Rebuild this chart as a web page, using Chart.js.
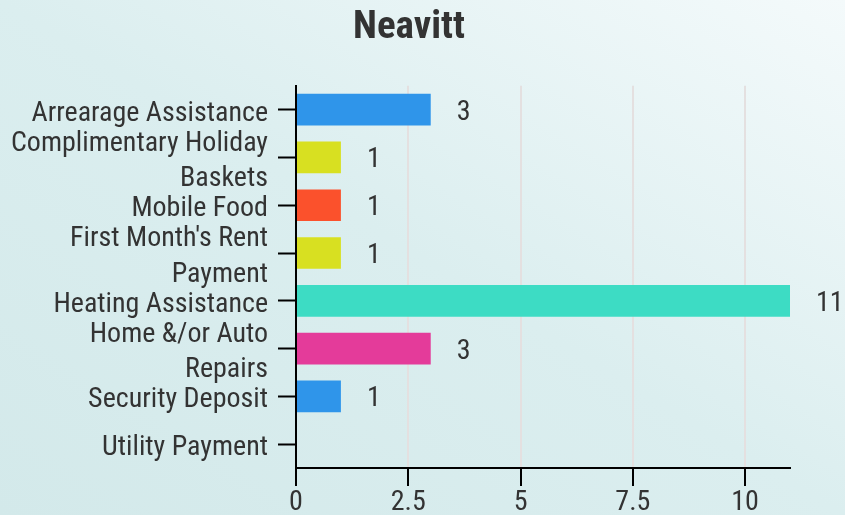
<!DOCTYPE html>
<html>
<head>
<meta charset="utf-8">
<script src="https://cdn.jsdelivr.net/npm/chart.js@4.4.1/dist/chart.umd.min.js"></script>
<style>
    html, body {
        margin: 0;
        padding: 0;
        width: 845px;
        height: 515px;
        overflow: hidden;
        background: linear-gradient(to top right, #d3e9ea 0%, #dbeeef 50%, #f4fafb 100%);
    }
    canvas { display: block; }
</style>
</head>
<body>
<canvas id="neavitt-chart" width="845" height="515"></canvas>
<script>
const categories = [
    'Arrearage Assistance',
    ['Complimentary Holiday', 'Baskets'],
    'Mobile Food',
    ["First Month's Rent", 'Payment'],
    'Heating Assistance',
    ['Home &/or Auto', 'Repairs'],
    'Security Deposit',
    'Utility Payment'
];
const counts = [3, 1, 1, 1, 11, 3, 1, 0];
const barColors = ['#2f95ea', '#d8e021', '#fb512c', '#d8e021', '#3ddcc4', '#e43b9a', '#2f95ea', '#2f95ea'];
const xTicks = [0, 2.5, 5, 7.5, 10];
const xMax = 11;

const textColor = '#333333';
const fontFamily = '"Roboto Condensed", Roboto, sans-serif';

// value labels to the right of each bar
const barValueLabels = {
    id: 'barValueLabels',
    afterDatasetsDraw(chart) {
        const {ctx} = chart;
        const meta = chart.getDatasetMeta(0);
        ctx.save();
        ctx.font = `28px ${fontFamily}`;
        ctx.fillStyle = textColor;
        ctx.textAlign = 'left';
        ctx.textBaseline = 'middle';
        meta.data.forEach((bar, i) => {
            if (!counts[i]) return;
            ctx.fillText(String(counts[i]), bar.x + 26, bar.y + 3);
        });
        ctx.restore();
    }
};

const ctx = document.getElementById('neavitt-chart').getContext('2d');
new Chart(ctx, {
    type: 'bar',
    data: {
        labels: categories,
        datasets: [{
            label: 'Neavitt',
            data: counts,
            backgroundColor: barColors,
            barPercentage: 0.83,
            categoryPercentage: 0.8
        }]
    },
    options: {
        indexAxis: 'y',
        responsive: false,
        animation: false,
        devicePixelRatio: 1,
        layout: {padding: {left: 0, right: 27, top: 0, bottom: 0}},
        scales: {
            x: {
                min: 0,
                max: xMax,
                afterBuildTicks: axis => {
                    axis.ticks = xTicks.map(v => ({value: v}));
                },
                afterFit: axis => { axis.height = 47; },
                border: {color: '#000', width: 2},
                grid: {
                    color: '#e4e0e0',
                    lineWidth: 2,
                    tickColor: '#000',
                    tickWidth: 2,
                    tickLength: 18
                },
                ticks: {
                    color: textColor,
                    padding: 0,
                    font: {family: fontFamily, size: 28}
                }
            },
            y: {
                afterFit: axis => { axis.width = 296; },
                border: {color: '#000', width: 2},
                grid: {
                    offset: false,
                    drawOnChartArea: false,
                    tickColor: '#000',
                    tickWidth: 2,
                    tickLength: 18
                },
                ticks: {
                    autoSkip: false,
                    color: textColor,
                    padding: 10,
                    labelOffset: 4,
                    font: {family: fontFamily, size: 28, lineHeight: 1.28}
                }
            },
            spacer: {
                type: 'linear',
                axis: 'y',
                position: 'right',
                display: true,
                afterFit: axis => { axis.width = 28; },
                border: {display: false},
                grid: {display: false, drawTicks: false},
                ticks: {display: false}
            }
        },
        plugins: {
            legend: {display: false},
            tooltip: {enabled: false},
            title: {
                display: true,
                text: 'Neavitt',
                color: textColor,
                font: {family: fontFamily, size: 39, weight: 'bold', lineHeight: 1.2},
                padding: {top: 5, bottom: 34}
            }
        }
    },
    plugins: [barValueLabels]
});
</script>
</body>
</html>
